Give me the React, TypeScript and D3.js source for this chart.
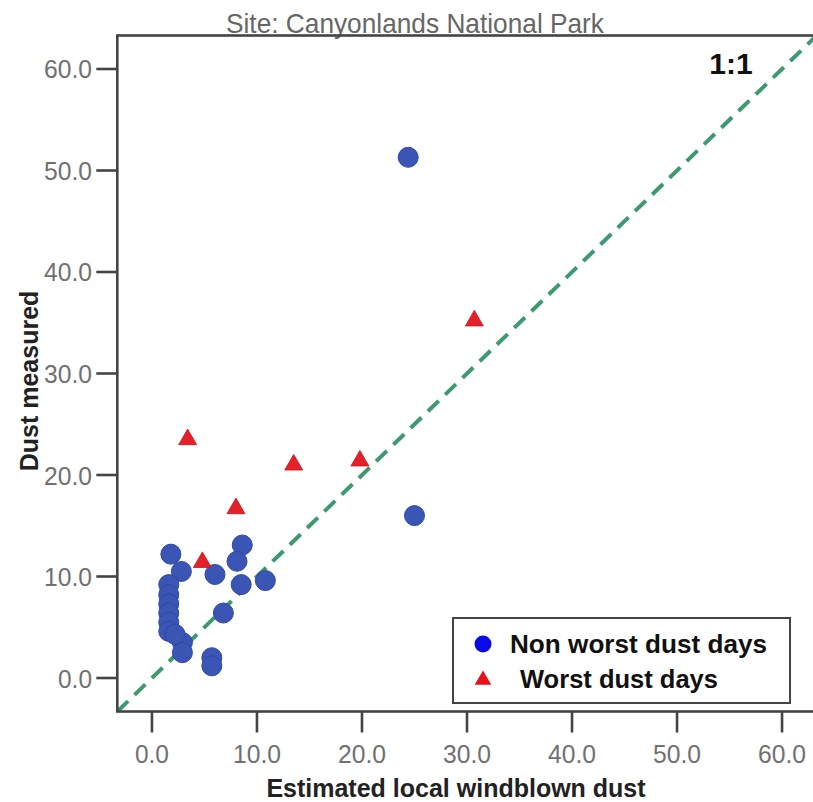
import React from "react";
import * as d3 from "d3";

// Non worst dust days: estimated local windblown dust (x) vs dust measured (y)
const nonWorstX = [24.4, 25.0, 1.8, 2.8, 6.0, 8.6, 8.1, 8.5, 10.8, 6.8, 5.7, 5.7, 2.9, 2.9, 1.6, 1.6, 1.6, 1.6, 1.6, 1.6, 2.2];
const nonWorstY = [51.3, 16.0, 12.2, 10.5, 10.2, 13.1, 11.5, 9.2, 9.6, 6.4, 2.0, 1.2, 3.5, 2.5, 9.2, 8.2, 7.3, 6.4, 5.5, 4.6, 4.3];

// Worst dust days
const worstX = [30.7, 3.4, 13.5, 19.8, 8.0, 4.8];
const worstY = [35.2, 23.5, 21.0, 21.4, 16.7, 11.4];

const tickValues = [0, 10, 20, 30, 40, 50, 60];
const axisDomain: [number, number] = [-3.3, 63.3];

const titleText = "Site: Canyonlands National Park";
const xTitle = "Estimated local windblown dust";
const yTitle = "Dust measured";
const legendLabels = ["Non worst dust days", "Worst dust days"];
const refLabel = "1:1";

const W = 813;
const H = 802;
const FONT = "'Liberation Sans', Arial, sans-serif";

export default function App() {
  const x = d3.scaleLinear().domain(axisDomain).range([117.3, 816.7]);
  const y = d3.scaleLinear().domain(axisDomain).range([711.5, 35.5]);
  const [x0, x1] = x.range();
  const [y0, y1] = y.range();

  const refLine = d3.line<number>().x((d) => x(d)).y((d) => y(d))(axisDomain) || "";
  const tri = d3.symbol().type(d3.symbolTriangle).size(140)() || "";
  const legendTri = d3.symbol().type(d3.symbolTriangle).size(120)() || "";

  const axisColor = "#444";
  const tickColor = "#707070";

  return (
    <svg
      width={W}
      height={H}
      viewBox={`0 0 ${W} ${H}`}
      style={{ position: "absolute", left: 0, top: 0, background: "#fff", display: "block" }}
    >
      <rect x={0} y={0} width={W} height={H} fill="#fff" />

      {/* title */}
      <text
        x={415}
        y={33}
        textAnchor="middle"
        fontFamily={FONT}
        fontSize={28}
        fill="#666"
        textLength={378}
        lengthAdjust="spacingAndGlyphs"
      >
        {titleText}
      </text>

      {/* 1:1 reference line */}
      <clipPath id="plotClip">
        <rect x={x0} y={y1} width={x1 - x0} height={y0 - y1} />
      </clipPath>
      <path
        d={refLine}
        stroke="#3d9a70"
        strokeWidth={4}
        strokeDasharray="15 9"
        fill="none"
        clipPath="url(#plotClip)"
      />

      {/* frame */}
      <rect x={x0} y={y1} width={x1 - x0} height={y0 - y1} fill="none" stroke={axisColor} strokeWidth={2.6} />

      {/* y axis ticks */}
      {tickValues.map((t) => (
        <g key={`y${t}`}>
          <line x1={x0 - 21} x2={x0} y1={y(t)} y2={y(t)} stroke={axisColor} strokeWidth={2.6} />
          <text
            x={92}
            y={y(t) + 9.5}
            textAnchor="end"
            fontFamily={FONT}
            fontSize={26}
            fill={tickColor}
            textLength={t === 0 ? 34 : 48}
            lengthAdjust="spacingAndGlyphs"
          >
            {t.toFixed(1)}
          </text>
        </g>
      ))}

      {/* x axis ticks */}
      {tickValues.map((t) => (
        <g key={`x${t}`}>
          <line x1={x(t)} x2={x(t)} y1={y0} y2={y0 + 21} stroke={axisColor} strokeWidth={2.6} />
          <text
            x={x(t)}
            y={763}
            textAnchor="middle"
            fontFamily={FONT}
            fontSize={26}
            fill={tickColor}
            textLength={t === 0 ? 34 : 48}
            lengthAdjust="spacingAndGlyphs"
          >
            {t.toFixed(1)}
          </text>
        </g>
      ))}

      {/* axis titles */}
      <text x={456} y={797} textAnchor="middle" fontFamily={FONT} fontSize={25} fontWeight="bold" fill="#222">
        {xTitle}
      </text>
      <text
        transform={`translate(38, 381) rotate(-90)`}
        textAnchor="middle"
        fontFamily={FONT}
        fontSize={25}
        fontWeight="bold"
        fill="#222"
      >
        {yTitle}
      </text>

      <text x={731} y={74} textAnchor="middle" fontFamily={FONT} fontSize={30} fontWeight="bold" fill="#111">
        {refLabel}
      </text>

      {/* markers */}
      <g clipPath="url(#plotClip)">
        {nonWorstX.map((v, i) => (
          <circle key={`c${i}`} cx={x(v)} cy={y(nonWorstY[i])} r={10} fill="#3b55b5" stroke="#2f47a6" strokeWidth={1} />
        ))}
        {worstX.map((v, i) => (
          <path
            key={`t${i}`}
            d={tri}
            transform={`translate(${x(v)}, ${y(worstY[i])})`}
            fill="#e4202a"
            stroke="#c8141e"
            strokeWidth={0.8}
          />
        ))}
      </g>

      {/* legend */}
      <g>
        <rect x={453} y={618} width={337} height={85} fill="#fff" stroke={axisColor} strokeWidth={2} />
        <circle cx={483} cy={644} r={8.5} fill="#0b0bea" />
        <path d={legendTri} transform="translate(483, 680)" fill="#e8101a" />
        <text x={510} y={653} fontFamily={FONT} fontSize={25} fontWeight="bold" fill="#111" textLength={257} lengthAdjust="spacingAndGlyphs">
          {legendLabels[0]}
        </text>
        <text x={520} y={688} fontFamily={FONT} fontSize={25} fontWeight="bold" fill="#111" textLength={198} lengthAdjust="spacingAndGlyphs">
          {legendLabels[1]}
        </text>
      </g>
    </svg>
  );
}
